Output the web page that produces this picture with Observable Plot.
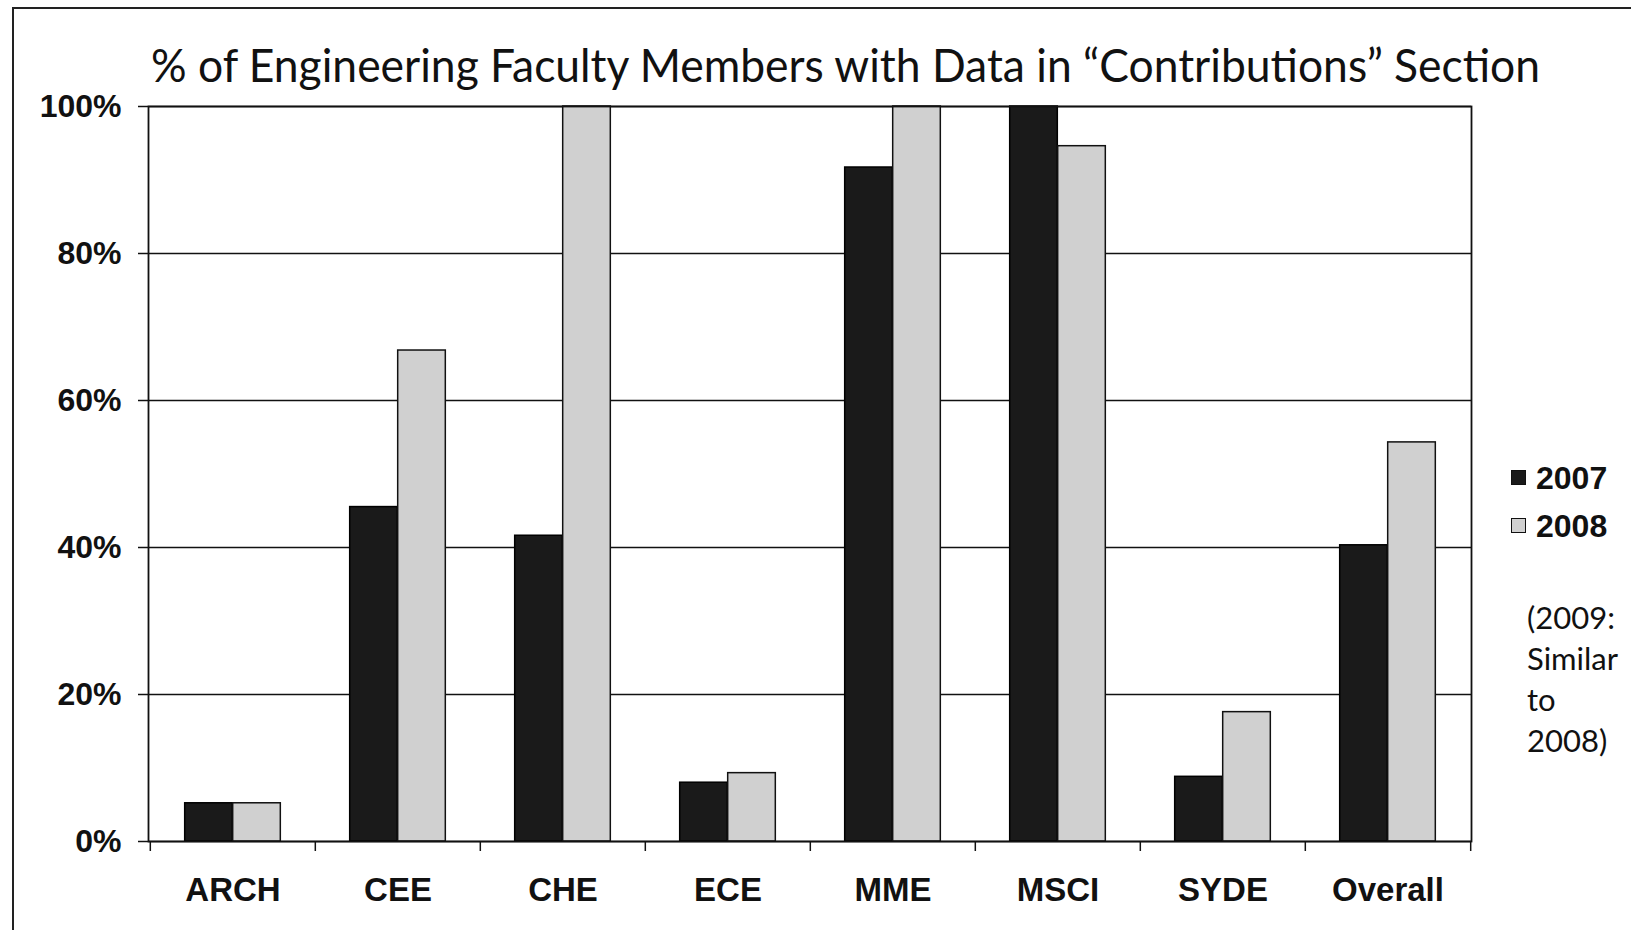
<!DOCTYPE html>
<html>
<head>
<meta charset="utf-8">
<script src="https://cdn.jsdelivr.net/npm/d3@7"></script>
<script src="https://cdn.jsdelivr.net/npm/@observablehq/plot@0.6"></script>
<style>
  html, body { margin: 0; padding: 0; background: #fff; }
  #wrap { position: relative; width: 1631px; height: 930px; overflow: hidden; background: #fff; }
  #border { position: absolute; left: 12px; top: 7px; right: -10px; bottom: -10px; border-left: 2px solid #222; border-top: 2px solid #222; }
  #title { position: absolute; left: 151px; top: 36px; font-family: Lato, "Open Sans", sans-serif; font-size: 47px; line-height: 1.2; white-space: nowrap; color: #111; transform-origin: 0 0; }
  .leg { position: absolute; font-family: "Liberation Sans", Arial, sans-serif; font-weight: bold; font-size: 32px; color: #111; line-height: 1; }
  .sw { position: absolute; width: 13px; height: 13px; border: 1.5px solid #111; }
  #note { position: absolute; left: 1527px; top: 597px; font-family: Lato, "Open Sans", sans-serif; font-size: 31px; line-height: 41px; color: #111; }
  #chart { position: absolute; left: 0; top: 0; }
</style>
</head>
<body>
<div id="wrap">
  <div id="chart"></div>
  <div id="border"></div>
  <div id="title"></div>
  <div id="legend"></div>
  <div id="note"></div>
</div>
<script>
const titleText = "% of Engineering Faculty Members with Data in \u201CContributions\u201D Section";
const categories = ["ARCH", "CEE", "CHE", "ECE", "MME", "MSCI", "SYDE", "Overall"];
const years = ["2007", "2008"];
const values2007 = [5.2, 45.5, 41.6, 8.0, 91.7, 100, 8.8, 40.3];
const values2008 = [5.2, 66.8, 100, 9.3, 100, 94.6, 17.6, 54.3];
const yTicks = [0, 20, 40, 60, 80, 100];
const noteLines = ["(2009:", "Similar", "to", "2008)"];
const yearColors = ["#1a1a1a", "#d0d0d0"];

const rows = [];
categories.forEach((c, i) => {
  rows.push({cat: c, year: years[0], value: values2007[i]});
  rows.push({cat: c, year: years[1], value: values2008[i]});
});

const W = 1631, H = 930;
const mL = 148, mR = 160, mT = 106, mB = 89;
const bw = (W - mL - mR) / categories.length;
const barW = 48;
const outer = bw / 2 - barW;

const chart = Plot.plot({
  width: W, height: H,
  marginLeft: mL, marginRight: mR, marginTop: mT, marginBottom: mB,
  x: {type: "band", domain: categories, padding: 0, axis: null},
  y: {domain: [0, 100], axis: null},
  style: {fontFamily: "'Liberation Sans', Arial, sans-serif", color: "#111", background: "transparent", overflow: "visible"},
  marks: [
    Plot.gridY(yTicks, {stroke: "#111", strokeOpacity: 1, strokeWidth: 1.5}),
    Plot.barY(rows.filter(d => d.year === years[0]), {x: "cat", y: "value", fill: yearColors[0], stroke: "#000", strokeWidth: 1.5, insetLeft: outer, insetRight: bw / 2}),
    Plot.barY(rows.filter(d => d.year === years[1]), {x: "cat", y: "value", fill: yearColors[1], stroke: "#111", strokeWidth: 1.5, insetLeft: bw / 2, insetRight: outer}),
    Plot.frame({stroke: "#111", strokeWidth: 1.8}),
    Plot.axisY(yTicks, {tickSize: 10, tickPadding: 17, tickFormat: d => d + "%", fontSize: 32, fontWeight: "bold", label: null, stroke: "#111", strokeWidth: 1.5}),
    Plot.axisX(categories, {tickSize: 0, tickPadding: 36, fontSize: 33, fontWeight: "bold", label: null}),
    Plot.axisX(categories, {tickSize: 10, tickFormat: () => "", dx: -bw / 2, label: null, strokeWidth: 1.5}),
    Plot.axisX([categories[categories.length - 1]], {tickSize: 10, tickFormat: () => "", dx: bw / 2, label: null, strokeWidth: 1.5})
  ]
});
document.getElementById("chart").appendChild(chart);

// Title
const t = document.getElementById("title");
t.textContent = titleText;
const tw = t.getBoundingClientRect().width;
t.style.transform = `scaleX(${1389 / tw})`;

// Legend
const legend = document.getElementById("legend");
const legTops = [470, 518];
years.forEach((y, i) => {
  const sw = document.createElement("div");
  sw.className = "sw";
  sw.style.left = "1511px";
  sw.style.top = legTops[i] + "px";
  sw.style.background = yearColors[i];
  legend.appendChild(sw);
  const lab = document.createElement("div");
  lab.className = "leg";
  lab.style.left = "1536px";
  lab.style.top = (legTops[i] - 8) + "px";
  lab.textContent = y;
  legend.appendChild(lab);
});

// Note
document.getElementById("note").innerHTML = noteLines.join("<br>");
</script>
</body>
</html>
